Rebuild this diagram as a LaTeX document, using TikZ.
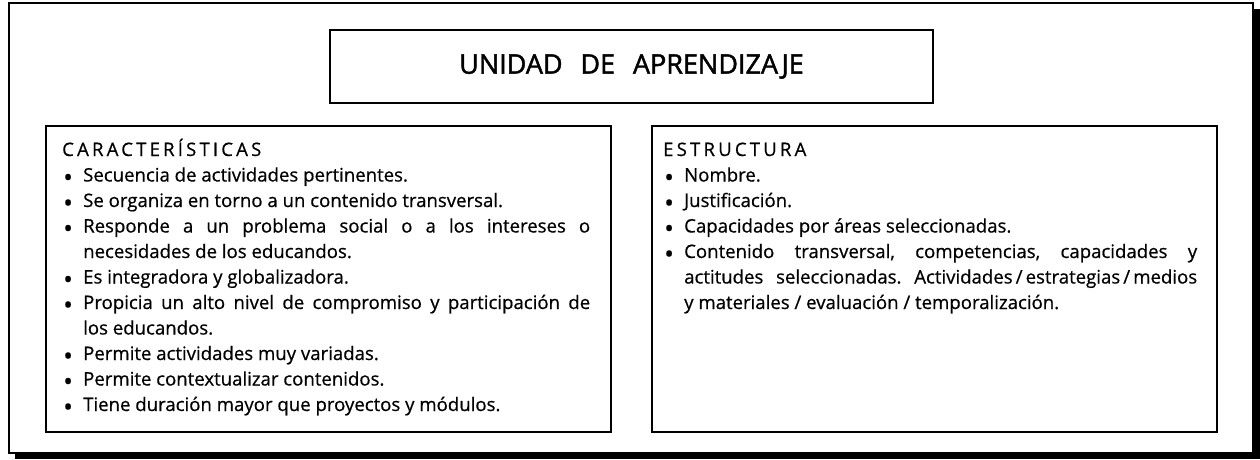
\documentclass[tikz,border=0pt]{standalone}
\usepackage{fontspec}
\setmainfont{Open Sans}[FakeBold=0.6]
\usetikzlibrary{positioning}

\newcommand{\punto}{\par\hangindent=21pt\hangafter=1\noindent\makebox[21pt][l]{\hspace{1pt}\raisebox{-5pt}{\fontsize{26}{0}\selectfont\textbullet}}}
\newcommand{\cabeza}[1]{{\addfontfeatures{LetterSpace=17}#1}}

\begin{document}
\frenchspacing
\begin{tikzpicture}[x=1pt,y=-1pt,
  marco/.style={line width=1.8pt},
  caja/.style={line width=2pt},
  lista/.style={anchor=base west,inner sep=0pt,text width=#1,align=justify,
    font=\fontsize{18.6}{25.5}\selectfont}]

\useasboundingbox (0,0) rectangle (1260,459);

\node[coordinate] (o1) at (9,3) {};
\node[coordinate] (o2) at (1253,453) {};
\node[coordinate] (s1) at (15,9) {};
\node[coordinate] (s2) at (1260,459) {};

\fill[black] (s1) rectangle (s2);
\filldraw[marco,fill=white] (o1) rectangle (o2);

\node[coordinate] (t1) at (330,30) {};
\node[coordinate] (t2) at (933,103) {};
\node[coordinate] (c1) at (46,126) {};
\node[coordinate] (c2) at (611,432) {};
\node[coordinate] (e1) at (652,126) {};
\node[coordinate] (e2) at (1217,432) {};

\draw[caja] (t1) rectangle (t2);
\draw[caja] (c1) rectangle (c2);
\draw[caja] (e1) rectangle (e2);

\node (tit) at (631.5,66.5) {\fontsize{27}{30}\selectfont\addfontfeatures{FakeBold=1.6}UNIDAD\hspace{0.4em} DE\hspace{0.4em} APRENDIZAJE};

\node[lista=528pt] (car) at (62,156) {%
\tolerance=9999
\cabeza{CARACTERÍSTICAS}
\punto Secuencia de actividades pertinentes.
\punto Se organiza en torno a un contenido transversal.
\punto Responde a un problema social o a los intereses o\linebreak necesidades de los educandos.
\punto Es integradora y globalizadora.
\punto Propicia un alto nivel de compromiso y participación de\linebreak los educandos.
\punto Permite actividades muy variadas.
\punto Permite contextualizar contenidos.
\punto Tiene duración mayor que proyectos y módulos.\par};

\node[lista=534pt] (est) at (663,156) {%
\tolerance=9999
\cabeza{ESTRUCTURA}
\punto Nombre.
\punto Justificación.
\punto Capacidades por áreas seleccionadas.
\punto Contenido transversal, competencias, capacidades y\linebreak actitudes seleccionadas. Actividades\,/\,estrategias\,/\,medios\linebreak y materiales / evaluación / temporalización.\par};

\end{tikzpicture}
\end{document}
